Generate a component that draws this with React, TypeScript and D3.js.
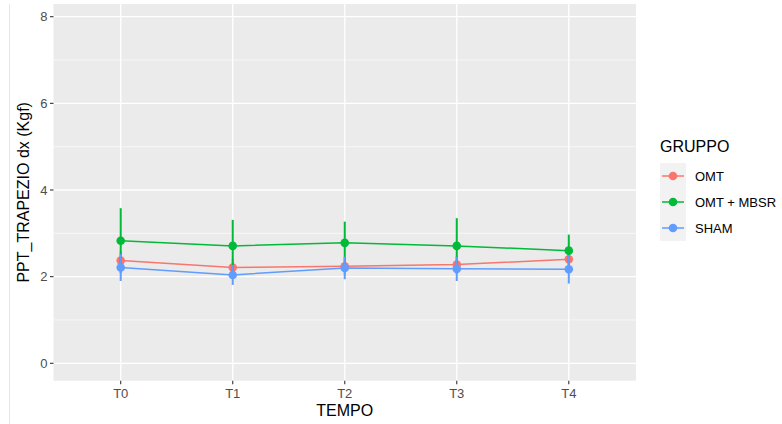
import { useRef, useEffect } from "react";
import * as d3 from "d3";

const tempi = ["T0", "T1", "T2", "T3", "T4"];
const gruppi = ["OMT", "OMT + MBSR", "SHAM"];
const colori = ["#F8766D", "#00BA38", "#619CFF"];

// mean values per group
const omtMean = [2.37, 2.21, 2.24, 2.28, 2.40];
const mbsrMean = [2.83, 2.71, 2.78, 2.71, 2.60];
const shamMean = [2.21, 2.04, 2.20, 2.18, 2.17];
// half-width of the error bars
const omtErr = [0.22, 0.2, 0.2, 0.2, 0.2];
const mbsrErr = [0.75, 0.6, 0.49, 0.64, 0.37];
const shamErr = [0.31, 0.23, 0.26, 0.28, 0.33];

const yTicks = [0, 2, 4, 6, 8];
const yMinor = [1, 3, 5, 7];

const W = 782;
const H = 424;
const font = "'Liberation Sans', Arial, sans-serif";

export default function App() {
  const svgRef = useRef(null);

  useEffect(() => {
    const svg = d3.select(svgRef.current).html(null);

    const left = 53.5, right = 636, top = 4, bottom = 380.7;

    const x = d3.scalePoint().domain(tempi).range([left, right]).padding(0.6);
    const y = d3.scaleLinear().domain([0, 8]).range([363.3, 16.7]);

    // faint border line on the left of the picture
    svg.append("line")
      .attr("x1", 9.5).attr("x2", 9.5).attr("y1", 4).attr("y2", H)
      .attr("stroke", "#e6e6e6").attr("stroke-width", 1);

    svg.append("rect")
      .attr("x", left).attr("y", top)
      .attr("width", right - left).attr("height", bottom - top)
      .attr("fill", "#EBEBEB");

    svg.selectAll(".minor").data(yMinor).join("line")
      .attr("x1", left).attr("x2", right)
      .attr("y1", d => y(d)).attr("y2", d => y(d))
      .attr("stroke", "#fff").attr("stroke-width", 0.6);

    svg.selectAll(".majory").data(yTicks).join("line")
      .attr("x1", left).attr("x2", right)
      .attr("y1", d => y(d)).attr("y2", d => y(d))
      .attr("stroke", "#fff").attr("stroke-width", 1.3);

    svg.selectAll(".majorx").data(tempi).join("line")
      .attr("x1", d => x(d)).attr("x2", d => x(d))
      .attr("y1", top).attr("y2", bottom)
      .attr("stroke", "#fff").attr("stroke-width", 1.3);

    // axis ticks and labels
    const gy = svg.append("g");
    yTicks.forEach(t => {
      gy.append("line").attr("x1", left - 3.5).attr("x2", left)
        .attr("y1", y(t)).attr("y2", y(t))
        .attr("stroke", "#333").attr("stroke-width", 1.1);
      gy.append("text").attr("x", left - 6).attr("y", y(t))
        .attr("dy", "0.36em").attr("text-anchor", "end")
        .attr("font-family", font).attr("font-size", 13).attr("fill", "#4D4D4D")
        .text(t);
    });
    const gx = svg.append("g");
    tempi.forEach(t => {
      gx.append("line").attr("x1", x(t)).attr("x2", x(t))
        .attr("y1", bottom).attr("y2", bottom + 3.5)
        .attr("stroke", "#333").attr("stroke-width", 1.1);
      gx.append("text").attr("x", x(t)).attr("y", bottom + 17)
        .attr("text-anchor", "middle")
        .attr("font-family", font).attr("font-size", 13).attr("fill", "#4D4D4D")
        .text(t);
    });

    svg.append("text").attr("x", (left + right) / 2).attr("y", 416)
      .attr("text-anchor", "middle").attr("font-family", font)
      .attr("font-size", 16).attr("fill", "#000").text("TEMPO");

    svg.append("text")
      .attr("transform", `translate(29,${(top + bottom) / 2}) rotate(-90)`)
      .attr("text-anchor", "middle").attr("font-family", font)
      .attr("font-size", 16).attr("fill", "#000").text("PPT_TRAPEZIO dx (Kgf)");

    const series = [
      { name: gruppi[0], color: colori[0], mean: omtMean, err: omtErr },
      { name: gruppi[1], color: colori[1], mean: mbsrMean, err: mbsrErr },
      { name: gruppi[2], color: colori[2], mean: shamMean, err: shamErr },
    ];

    const line = d3.line<number>()
      .x((_, i) => x(tempi[i]) as number)
      .y(d => y(d));

    // lines layer
    series.forEach(s => {
      svg.append("path").attr("d", line(s.mean))
        .attr("fill", "none").attr("stroke", s.color).attr("stroke-width", 1.5);
    });

    // pointrange layer
    series.forEach(s => {
      const g = svg.append("g");
      s.mean.forEach((m, i) => {
        g.append("line")
          .attr("x1", x(tempi[i])).attr("x2", x(tempi[i]))
          .attr("y1", y(m - s.err[i])).attr("y2", y(m + s.err[i]))
          .attr("stroke", s.color).attr("stroke-width", 2);
        g.append("circle")
          .attr("cx", x(tempi[i])).attr("cy", y(m)).attr("r", 4.3)
          .attr("fill", s.color);
      });
    });

    // legend
    const lg = svg.append("g");
    lg.append("text").attr("x", 660).attr("y", 152)
      .attr("font-family", font).attr("font-size", 16).attr("fill", "#000")
      .text("GRUPPO");
    gruppi.forEach((gname, i) => {
      const cy = 176 + i * 26;
      lg.append("rect").attr("x", 660).attr("y", cy - 13)
        .attr("width", 26).attr("height", 26).attr("fill", "#F2F2F2");
      lg.append("line").attr("x1", 662).attr("x2", 684)
        .attr("y1", cy).attr("y2", cy)
        .attr("stroke", colori[i]).attr("stroke-width", 1.5);
      lg.append("circle").attr("cx", 673).attr("cy", cy).attr("r", 4.3)
        .attr("fill", colori[i]);
      lg.append("text").attr("x", 695).attr("y", cy).attr("dy", "0.36em")
        .attr("font-family", font).attr("font-size", 13).attr("fill", "#000")
        .text(gname);
    });
  }, []);

  return (
    <svg ref={svgRef} width={W} height={H}
      style={{ position: "absolute", left: 0, top: 0, background: "#fff" }} />
  );
}
